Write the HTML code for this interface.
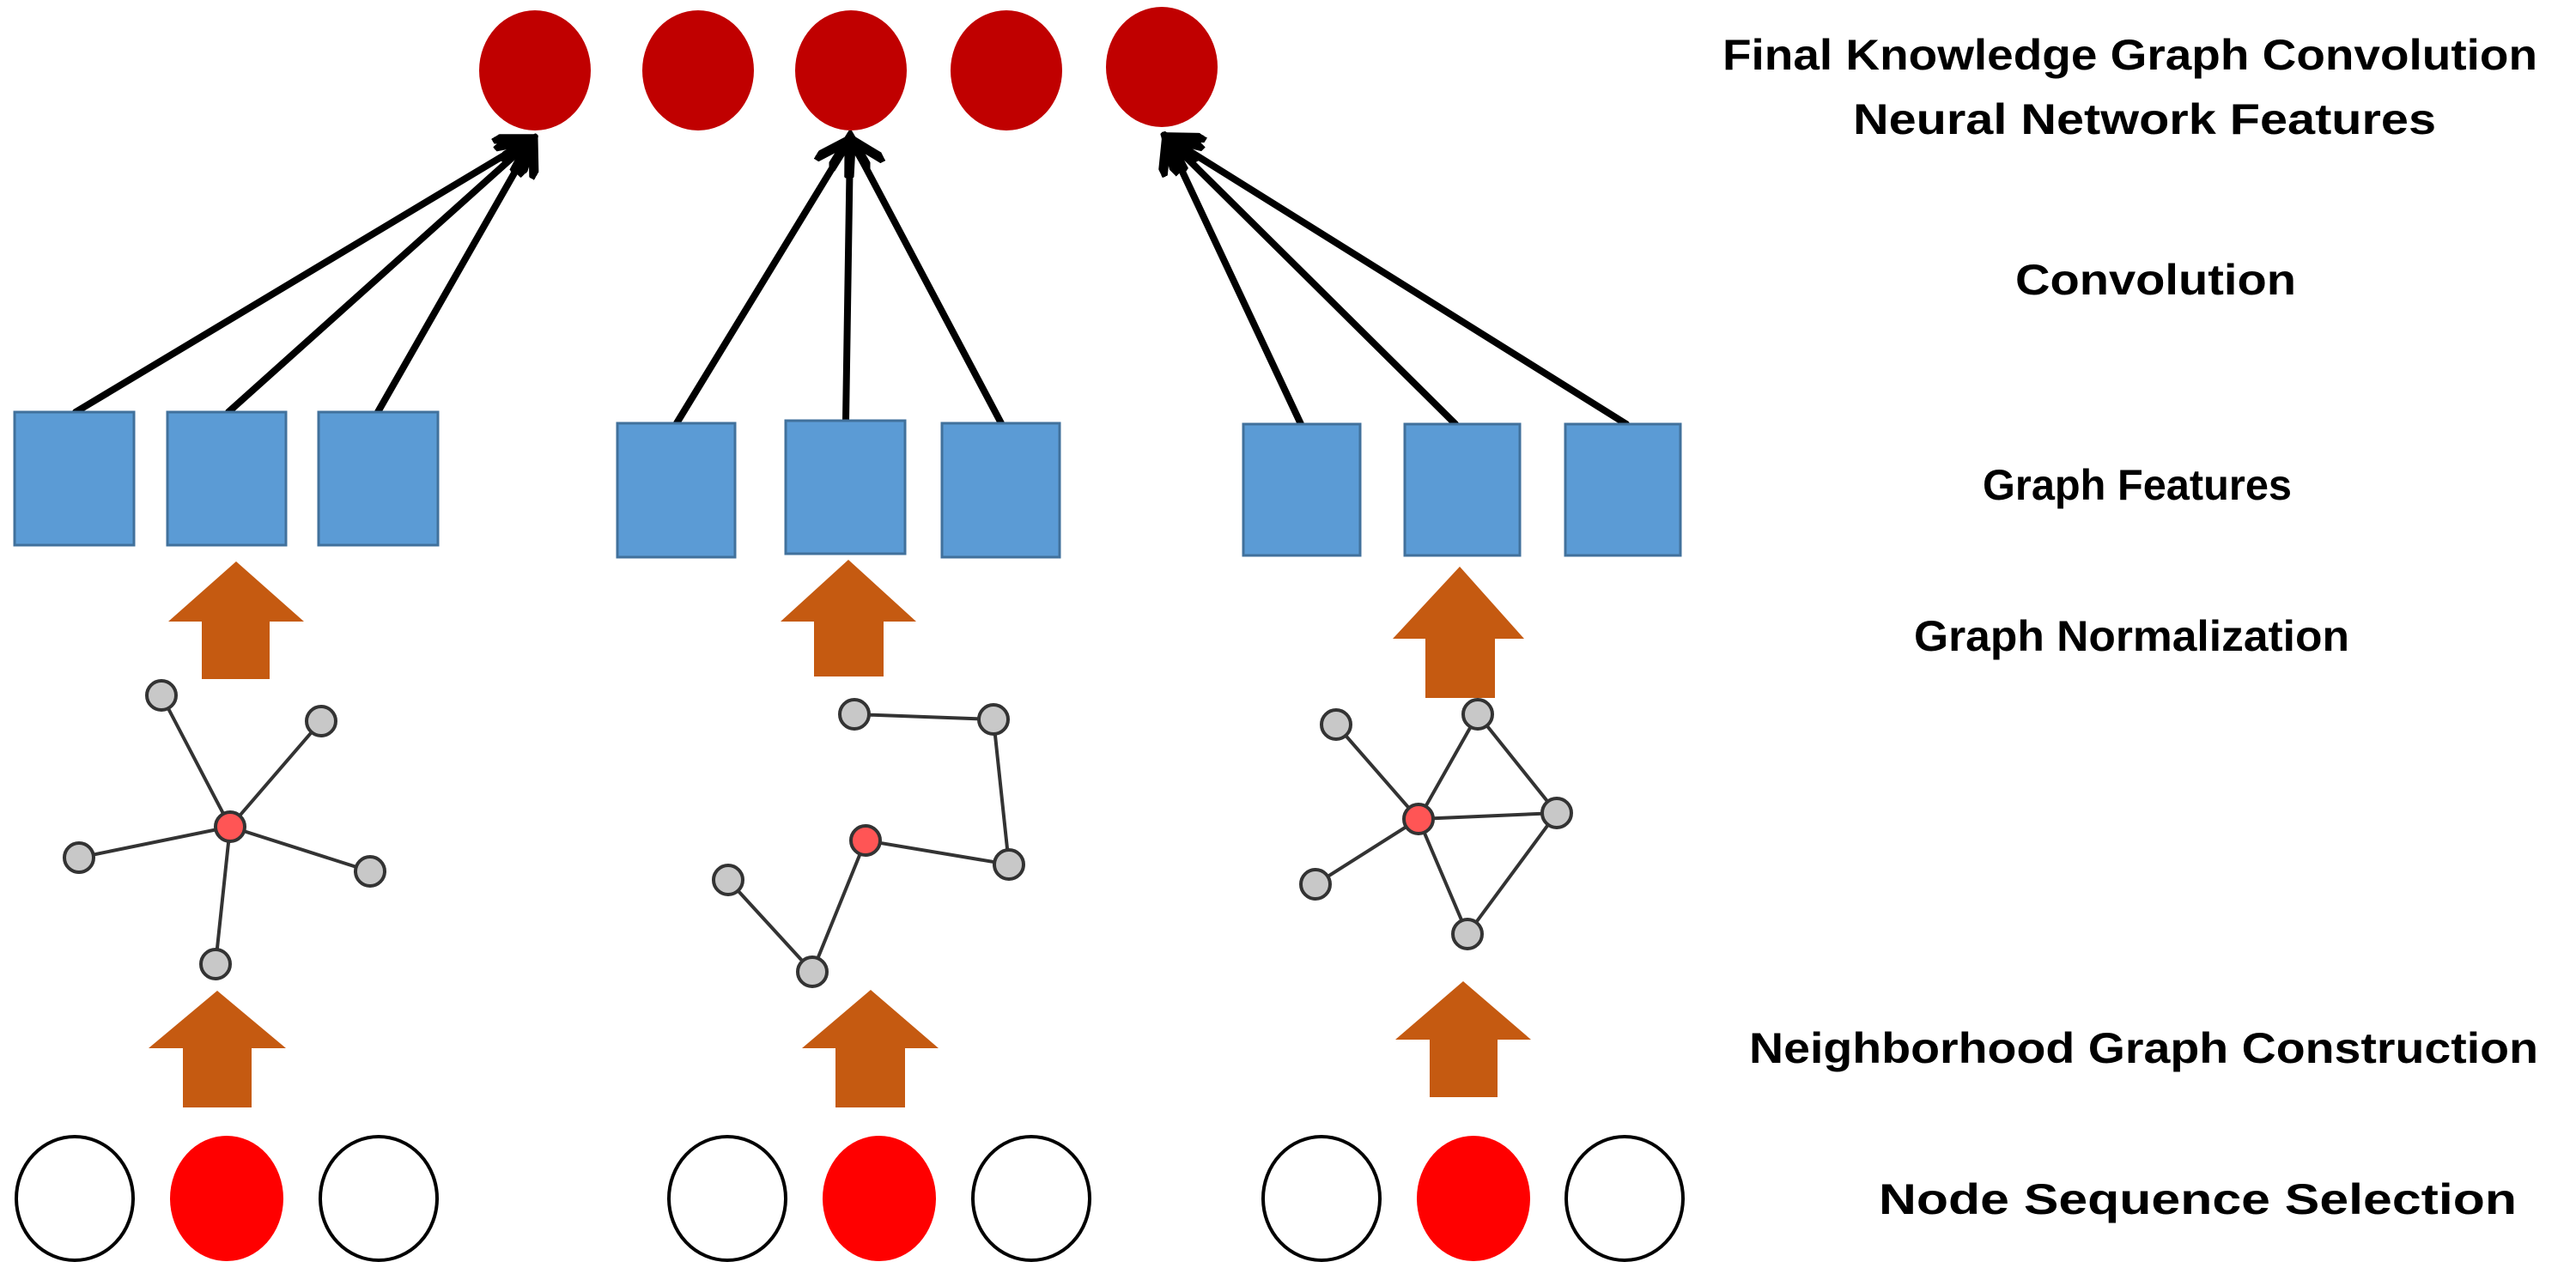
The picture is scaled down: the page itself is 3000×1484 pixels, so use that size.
<!DOCTYPE html>
<html><head><meta charset="utf-8"><style>html,body{margin:0;padding:0;background:#fff}svg{display:block}</style></head><body>
<svg width="3000" height="1484" viewBox="0 0 3000 1484" xmlns="http://www.w3.org/2000/svg">
<defs>
<marker id="ah" markerWidth="6" markerHeight="6" refX="4" refY="3" orient="auto" markerUnits="strokeWidth">
<path d="M0,0 L5,3 L0,6" fill="none" stroke="#000" stroke-width="1.4"/>
</marker>
</defs>
<g fill="#c00000">
<ellipse cx="623" cy="82" rx="65" ry="70"/>
<ellipse cx="813" cy="82" rx="65" ry="70"/>
<ellipse cx="991" cy="82" rx="65" ry="70"/>
<ellipse cx="1172" cy="82" rx="65" ry="70"/>
<ellipse cx="1353" cy="78" rx="65" ry="70"/>
</g>
<g stroke="#000" stroke-width="8" stroke-linecap="round" marker-end="url(#ah)">
<line x1="88" y1="480" x2="612" y2="166"/>
<line x1="266" y1="480" x2="614" y2="168"/>
<line x1="440" y1="480" x2="617" y2="170"/>
<line x1="788" y1="493" x2="985" y2="170"/>
<line x1="985" y1="490" x2="990" y2="168"/>
<line x1="1166" y1="493" x2="995" y2="170"/>
<line x1="1515" y1="494" x2="1362" y2="168"/>
<line x1="1695" y1="494" x2="1364" y2="166"/>
<line x1="1894" y1="494" x2="1366" y2="164"/>
</g>
<g fill="#5b9bd5" stroke="#41719c" stroke-width="3">
<rect x="17" y="480" width="139" height="155"/>
<rect x="195" y="480" width="138" height="155"/>
<rect x="371" y="480" width="139" height="155"/>
<rect x="719" y="493" width="137" height="156"/>
<rect x="915" y="490" width="139" height="155"/>
<rect x="1097" y="493" width="137" height="156"/>
<rect x="1448" y="494" width="136" height="153"/>
<rect x="1636" y="494" width="134" height="153"/>
<rect x="1823" y="494" width="134" height="153"/>
</g>
<g fill="#c55a11">
<polygon points="275,654 354,724 314,724 314,791 235,791 235,724 196,724"/>
<polygon points="988,652 1067,724 1029,724 1029,788 948,788 948,724 909,724"/>
<polygon points="1700,660 1775,744 1741,744 1741,813 1660,813 1660,744 1622,744"/>
<polygon points="253,1154 333,1221 293,1221 293,1290 213,1290 213,1221 173,1221"/>
<polygon points="1014,1153 1093,1221 1054,1221 1054,1290 973,1290 973,1221 934,1221"/>
<polygon points="1704,1143 1783,1211 1744,1211 1744,1278 1665,1278 1665,1211 1625,1211"/>
</g>
<g stroke="#333" stroke-width="4">
<line x1="268" y1="963" x2="188" y2="810"/><line x1="268" y1="963" x2="374" y2="840"/>
<line x1="268" y1="963" x2="92" y2="999"/><line x1="268" y1="963" x2="431" y2="1015"/>
<line x1="268" y1="963" x2="251" y2="1123"/>
<line x1="995" y1="832" x2="1157" y2="838"/><line x1="1157" y1="838" x2="1175" y2="1007"/>
<line x1="1175" y1="1007" x2="1008" y2="979"/><line x1="1008" y1="979" x2="946" y2="1132"/>
<line x1="946" y1="1132" x2="848" y2="1025"/>
<line x1="1652" y1="954" x2="1556" y2="844"/><line x1="1652" y1="954" x2="1721" y2="832"/>
<line x1="1721" y1="832" x2="1813" y2="947"/><line x1="1652" y1="954" x2="1813" y2="947"/>
<line x1="1652" y1="954" x2="1532" y2="1030"/><line x1="1652" y1="954" x2="1709" y2="1088"/>
<line x1="1709" y1="1088" x2="1813" y2="947"/>
</g>
<g fill="#c8c8c8" stroke="#333" stroke-width="4">
<circle cx="188" cy="810" r="17"/><circle cx="374" cy="840" r="17"/><circle cx="92" cy="999" r="17"/>
<circle cx="431" cy="1015" r="17"/><circle cx="251" cy="1123" r="17"/>
<circle cx="995" cy="832" r="17"/><circle cx="1157" cy="838" r="17"/><circle cx="1175" cy="1007" r="17"/>
<circle cx="848" cy="1025" r="17"/><circle cx="946" cy="1132" r="17"/>
<circle cx="1556" cy="844" r="17"/><circle cx="1721" cy="832" r="17"/><circle cx="1813" cy="947" r="17"/>
<circle cx="1532" cy="1030" r="17"/><circle cx="1709" cy="1088" r="17"/>
</g>
<g fill="#ff5555" stroke="#333" stroke-width="4">
<circle cx="268" cy="963" r="17"/><circle cx="1008" cy="979" r="17"/><circle cx="1652" cy="954" r="17"/>
</g>
<g fill="#fff" stroke="#000" stroke-width="4">
<ellipse cx="87" cy="1396" rx="68" ry="72"/><ellipse cx="441" cy="1396" rx="68" ry="72"/>
<ellipse cx="847" cy="1396" rx="68" ry="72"/><ellipse cx="1201" cy="1396" rx="68" ry="72"/>
<ellipse cx="1539" cy="1396" rx="68" ry="72"/><ellipse cx="1892" cy="1396" rx="68" ry="72"/>
</g>
<g fill="#ff0000">
<ellipse cx="264" cy="1396" rx="66" ry="73"/><ellipse cx="1024" cy="1396" rx="66" ry="73"/><ellipse cx="1716" cy="1396" rx="66" ry="73"/>
</g>
<g font-family="Liberation Sans, sans-serif" font-size="50" font-weight="bold" fill="#000" lengthAdjust="spacingAndGlyphs">
<text x="2006" y="81" textLength="949" lengthAdjust="spacingAndGlyphs">Final Knowledge Graph Convolution</text>
<text x="2158" y="156" textLength="679" lengthAdjust="spacingAndGlyphs">Neural Network  Features</text>
<text x="2347" y="343" textLength="327" lengthAdjust="spacingAndGlyphs">Convolution</text>
<text x="2309" y="582" textLength="360" lengthAdjust="spacingAndGlyphs">Graph Features</text>
<text x="2229" y="758" textLength="507" lengthAdjust="spacingAndGlyphs">Graph Normalization</text>
<text x="2037" y="1238" textLength="919" lengthAdjust="spacingAndGlyphs">Neighborhood Graph Construction</text>
<text x="2188" y="1414" textLength="743" lengthAdjust="spacingAndGlyphs">Node Sequence Selection</text>
</g>
</svg>
</body></html>
